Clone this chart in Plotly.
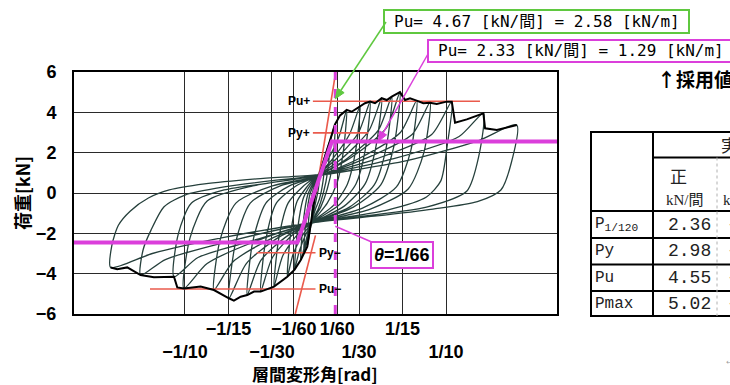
import math
import plotly.graph_objects as go

# ---------------- data (load in kN, drift angle in rad) ----------------
# skeleton (envelope) curve, positive side
env_pos_x = [0.0, 0.0034, 0.0073, 0.0111, 0.0149, 0.0188, 0.0239, 0.0277, 0.0341, 0.0379,
             0.0418, 0.0456, 0.0507, 0.0546, 0.0584, 0.0647, 0.0686, 0.0724, 0.0775, 0.0826,
             0.0877, 0.0929, 0.1005, 0.1044, 0.1069, 0.1159, 0.1286, 0.1299, 0.1389, 0.1542]
env_pos_y = [0.0, 0.98, 1.8, 2.6, 3.4, 3.85, 4.12, 4.03, 4.31, 4.45,
             4.53, 4.45, 4.70, 4.61, 4.78, 5.00, 4.61, 4.69, 4.58, 4.45,
             4.48, 4.41, 4.53, 4.53, 3.49, 3.65, 3.95, 3.21, 3.12, 3.37]

# skeleton curve, negative side
env_neg_x = [0.0, -0.0030, -0.0063, -0.0113, -0.0160, -0.0216, -0.0318, -0.0420, -0.0471,
             -0.0523, -0.0573, -0.0625, -0.0663, -0.0778, -0.0880, -0.1008, -0.1059, -0.1084,
             -0.1238, -0.1340, -0.1442, -0.1519, -0.1569]
env_neg_y = [0.0, -1.3, -2.66, -3.32, -3.8, -4.15, -4.64, -4.89, -4.89,
             -5.06, -5.14, -5.34, -5.22, -4.81, -4.64, -4.73, -4.68, -4.15,
             -4.18, -4.07, -3.69, -3.78, -3.69]

# hysteresis branches: from each positive peak down to the following negative peak
down_x = [
    [0.0034, 0.0022, 0.0, -0.0030],
    [0.0073, 0.0058, 0.003, 0.0, -0.0035, -0.0063],
    [0.0111, 0.0094, 0.006, 0.002, 0.0, -0.0045, -0.0090],
    [0.0149, 0.0130, 0.009, 0.004, 0.0, -0.0055, -0.0113],
    [0.0239, 0.0212, 0.0165, 0.009, 0.0, -0.007, -0.0125, -0.0160],
    [0.0341, 0.0305, 0.0245, 0.014, 0.0, -0.009, -0.017, -0.0216],
    [0.0418, 0.038, 0.031, 0.018, 0.0, -0.013, -0.025, -0.0318],
    [0.0507, 0.046, 0.038, 0.022, 0.0, -0.017, -0.033, -0.0420],
    [0.0584, 0.054, 0.045, 0.026, 0.0, -0.021, -0.042, -0.0523],
    [0.0647, 0.060, 0.050, 0.029, 0.0, -0.027, -0.053, -0.0663],
    [0.0775, 0.073, 0.062, 0.036, 0.0, -0.032, -0.063, -0.0778],
    [0.0877, 0.083, 0.071, 0.042, 0.0, -0.042, -0.083, -0.1008],
    [0.1044, 0.101, 0.096, 0.085, 0.055, 0.0, -0.045, -0.090, -0.1084],
    [0.1286, 0.125, 0.116, 0.085, 0.0, -0.060, -0.115, -0.1340],
    [0.1542, 0.150, 0.142, 0.124, 0.090, 0.045, 0.0, -0.070, -0.125, -0.1569],
]
down_y = [
    [0.98, 0.2, -0.5, -1.3],
    [1.8, 0.6, -0.3, -0.8, -1.6, -2.66],
    [2.6, 1.1, 0.0, -0.8, -1.05, -1.8, -3.0],
    [3.4, 1.4, 0.2, -0.7, -1.15, -1.95, -3.32],
    [4.12, 2.0, 0.5, -0.5, -1.25, -2.0, -2.9, -3.8],
    [4.31, 2.0, 0.45, -0.6, -1.32, -2.0, -3.0, -4.15],
    [4.53, 2.1, 0.45, -0.6, -1.36, -2.0, -3.1, -4.64],
    [4.70, 2.2, 0.45, -0.65, -1.4, -2.05, -3.2, -4.89],
    [4.78, 2.2, 0.4, -0.7, -1.42, -2.1, -3.35, -5.06],
    [5.00, 2.3, 0.4, -0.7, -1.43, -2.15, -3.5, -5.22],
    [4.58, 2.1, 0.3, -0.75, -1.44, -2.2, -3.4, -4.81],
    [4.48, 2.0, 0.2, -0.8, -1.45, -2.3, -3.5, -4.73],
    [4.53, 2.4, 0.6, -0.2, -0.85, -1.45, -2.3, -3.2, -4.15],
    [3.95, 1.8, 0.1, -0.7, -1.45, -2.3, -3.3, -4.07],
    [3.37, 1.5, 0.15, -0.43, -0.8, -1.15, -1.45, -2.2, -3.0, -3.69],
]

# hysteresis branches: from each negative peak up to the next positive peak
up_x = [
    [-0.0030, -0.0018, 0.0, 0.0035, 0.0073],
    [-0.0063, -0.0048, -0.002, 0.0, 0.005, 0.0111],
    [-0.0090, -0.0072, -0.004, 0.0, 0.007, 0.0149],
    [-0.0113, -0.0093, -0.006, 0.0, 0.009, 0.018, 0.0239],
    [-0.0160, -0.0135, -0.009, 0.0, 0.012, 0.026, 0.0341],
    [-0.0216, -0.019, -0.014, -0.006, 0.0, 0.016, 0.033, 0.0418],
    [-0.0318, -0.028, -0.021, -0.010, 0.0, 0.020, 0.041, 0.0507],
    [-0.0420, -0.038, -0.030, -0.015, 0.0, 0.024, 0.048, 0.0584],
    [-0.0523, -0.048, -0.038, -0.020, 0.0, 0.027, 0.054, 0.0647],
    [-0.0663, -0.061, -0.050, -0.027, 0.0, 0.033, 0.065, 0.0775],
    [-0.0778, -0.073, -0.061, -0.033, 0.0, 0.038, 0.074, 0.0877],
    [-0.1008, -0.096, -0.083, -0.048, 0.0, 0.047, 0.089, 0.1044],
    [-0.1084, -0.105, -0.095, -0.070, -0.035, 0.0, 0.060, 0.110, 0.1286],
    [-0.1340, -0.132, -0.126, -0.116, -0.100, -0.070, -0.035, 0.0, 0.070, 0.125, 0.1542],
    [-0.1569, -0.156, -0.151, -0.142, -0.128, -0.112, -0.085, -0.045, 0.0, 0.030],
]
up_y = [
    [-1.3, -0.4, 0.3, 1.0, 1.8],
    [-2.66, -1.0, 0.1, 0.5, 1.4, 2.6],
    [-3.0, -1.3, 0.0, 0.6, 1.6, 3.4],
    [-3.32, -1.4, -0.1, 0.7, 1.6, 2.8, 4.12],
    [-3.8, -1.7, -0.2, 0.75, 1.6, 2.9, 4.31],
    [-4.15, -2.0, -0.4, 0.35, 0.8, 1.7, 3.0, 4.53],
    [-4.64, -2.2, -0.5, 0.3, 0.8, 1.7, 3.1, 4.70],
    [-4.89, -2.3, -0.5, 0.35, 0.8, 1.7, 3.1, 4.78],
    [-5.06, -2.4, -0.5, 0.35, 0.8, 1.75, 3.2, 5.00],
    [-5.22, -2.4, -0.5, 0.35, 0.8, 1.7, 3.0, 4.58],
    [-4.81, -2.3, -0.5, 0.35, 0.8, 1.7, 2.9, 4.48],
    [-4.73, -2.2, -0.4, 0.35, 0.85, 1.7, 2.9, 4.53],
    [-4.15, -2.0, -0.5, 0.15, 0.5, 0.85, 1.7, 2.8, 3.95],
    [-4.07, -2.8, -1.84, -0.68, -0.1, 0.3, 0.6, 0.85, 1.6, 2.6, 3.37],
    [-3.69, -2.6, -1.6, -0.9, -0.25, 0.15, 0.45, 0.7, 0.9, 1.15],
]

# evaluation values
pu_pos, py_pos = 4.55, 2.98
pu_neg, py_neg = -4.76, -2.96
pu_marked = 4.67
theta_u = 1 / 66
bilin_x = [-0.185, -0.0139, 0.0125, 0.185]
bilin_y = [-2.46, -2.46, 2.55, 2.55]
init_pos_x, init_pos_y = [0.0005, 0.0155], [0.0, 6.0]
init_neg_x, init_neg_y = [-0.0155, 0.0], [-6.0, -2.1]
pu_pos_span = [-0.002, 0.126]
py_pos_span = [-0.002, 0.0405]
pu_neg_span = [-0.1268, 0.0]
py_neg_span = [-0.045, 0.0]

x_tick_vals = [-1/10, -1/15, -1/30, -1/60, 1/60, 1/30, 1/15, 1/10]
x_tick_text = ["<br>−1/10", "−1/15", "<br>−1/30", "−1/60", "1/60", "<br>1/30", "1/15", "<br>1/10"]
y_tick_vals = [-6, -4, -2, 0, 2, 4, 6]

table_rows = ["P<sub>1/120</sub>", "Py", "Pu", "Pmax"]
table_pos = ["2.36", "2.98", "4.55", "5.02"]
table_neg = ["-2.62", "-2.96", "-4.76", "-5.34"]

# ---------------- figure ----------------
LOOP = "#26403c"
RED = "#ea5a4c"
MAG = "#db3fdb"
GREEN = "#5fc83f"

X_RANGE = [-0.185, 0.185]
Y_RANGE = [-6, 6]

fig = go.Figure()

# cyclic loops as one continuous path
path_x, path_y = [], []
for i in range(len(down_x)):
    dx, dy = down_x[i], down_y[i]
    ux, uy = up_x[i], up_y[i]
    path_x += (dx if not path_x else dx[1:]) + ux[1:]
    path_y += (dy if not path_y else dy[1:]) + uy[1:]
fig.add_trace(go.Scatter(x=path_x, y=path_y, mode="lines",
                         line=dict(color=LOOP, width=1.3, shape="spline", smoothing=0.7)))

# red evaluation lines
for xs, ys in [(pu_pos_span, [pu_pos, pu_pos]), (py_pos_span, [py_pos, py_pos]),
               (pu_neg_span, [pu_neg, pu_neg]), (py_neg_span, [py_neg, py_neg]),
               (init_pos_x, init_pos_y), (init_neg_x, init_neg_y)]:
    fig.add_trace(go.Scatter(x=xs, y=ys, mode="lines", line=dict(color=RED, width=1.6)))

# skeleton curve
fig.add_trace(go.Scatter(x=env_pos_x, y=env_pos_y, mode="lines", line=dict(color="black", width=2)))
fig.add_trace(go.Scatter(x=env_neg_x, y=env_neg_y, mode="lines", line=dict(color="black", width=2)))

# bilinear model and ultimate drift
fig.add_trace(go.Scatter(x=bilin_x, y=bilin_y, mode="lines", line=dict(color=MAG, width=4)))
fig.add_trace(go.Scatter(x=[theta_u, theta_u], y=[-6, 6], mode="lines",
                         line=dict(color=MAG, width=3, dash="dash")))

L, R, T, B = 74, 557, 72, 314


def pxx(v):
    return (v - L) / (R - L)


def pxy(v):
    return (B - v) / (B - T)


def data_to_px(x, y):
    """Pixel position of a data point inside the plot area."""
    return (L + (x - X_RANGE[0]) / (X_RANGE[1] - X_RANGE[0]) * (R - L),
            B - (y - Y_RANGE[0]) / (Y_RANGE[1] - Y_RANGE[0]) * (B - T))


shapes = []
annotations = []


def text(xp, yp, s, size=16, family="Liberation Sans", color="black", anchor="center", angle=0):
    annotations.append(dict(xref="paper", yref="paper", x=pxx(xp), y=pxy(yp), text=s,
                            showarrow=False, xanchor=anchor, yanchor="middle", textangle=angle,
                            font=dict(size=size, family=family, color=color)))


def rect(x0, y0, x1, y1, color, width=2):
    shapes.append(dict(type="rect", xref="paper", yref="paper", x0=pxx(x0), x1=pxx(x1),
                       y0=pxy(y0), y1=pxy(y1), line=dict(color=color, width=width)))


def hline(x0, x1, y, width=2, color="black", dash=None):
    shapes.append(dict(type="line", xref="paper", yref="paper", x0=pxx(x0), x1=pxx(x1),
                       y0=pxy(y), y1=pxy(y), line=dict(color=color, width=width, dash=dash)))


def vline(x, y0, y1, width=2, color="black", dash=None):
    shapes.append(dict(type="line", xref="paper", yref="paper", x0=pxx(x), x1=pxx(x),
                       y0=pxy(y0), y1=pxy(y1), line=dict(color=color, width=width, dash=dash)))


def arrow(tx, ty, hx, hy, color, width=1.5, head=10, half=4):
    """Leader line from (tx, ty) to (hx, hy) in pixels, with a filled head."""
    dx, dy = hx - tx, hy - ty
    n = math.hypot(dx, dy)
    ux, uy = dx / n, dy / n
    bx, by = hx - head * ux, hy - head * uy
    shapes.append(dict(type="line", xref="paper", yref="paper", x0=pxx(tx), y0=pxy(ty),
                       x1=pxx(bx), y1=pxy(by), line=dict(color=color, width=width)))
    p1 = (bx + half * uy, by - half * ux)
    p2 = (bx - half * uy, by + half * ux)
    path = "M %f %f L %f %f L %f %f Z" % (pxx(hx), pxy(hy), pxx(p1[0]), pxy(p1[1]),
                                          pxx(p2[0]), pxy(p2[1]))
    shapes.append(dict(type="path", xref="paper", yref="paper", path=path,
                       fillcolor=color, line=dict(color=color, width=1)))


# evaluation labels
for lbl, yv, anchor, xv in [("Pu+", pu_pos, "right", -0.0025), ("Py+", py_pos, "right", -0.0025),
                            ("Py−", py_neg, "left", 0.0012), ("Pu−", pu_neg, "left", 0.0012)]:
    annotations.append(dict(x=xv, y=yv, xref="x", yref="y", text="<b>%s</b>" % lbl, showarrow=False,
                            xanchor=anchor, yanchor="middle",
                            font=dict(size=12, family="Liberation Sans Narrow, Liberation Sans", color="black")))

# leader arrows from the value boxes
gx, gy = data_to_px(theta_u, pu_marked)
arrow(386, 22, gx, gy, GREEN)
mx, my = data_to_px(0.048, bilin_y[-1])
arrow(428, 54, mx, my, MAG)

# drift angle box
annotations.append(dict(x=theta_u, y=-1.65, xref="x", yref="y", ax=67, ay=29, axref="pixel", ayref="pixel",
                        text="<b><i>θ</i>=1/66</b>", showarrow=True, arrowhead=0, arrowwidth=1.5, arrowcolor=MAG,
                        bordercolor=MAG, borderwidth=2, borderpad=2, bgcolor="white",
                        font=dict(size=18, family="Liberation Sans", color="black")))

# boxes at top
rect(384, 10, 689, 33, GREEN)
text(537, 21.5, "Pu= 4.67 [kN/間] = 2.58 [kN/m]", size=16, family="DejaVu Sans Mono, Noto Sans CJK JP")
rect(428, 40, 760, 62, MAG)
text(436, 51, "Pu= 2.33 [kN/間] = 1.29 [kN/m]", size=16, family="DejaVu Sans Mono, Noto Sans CJK JP",
     anchor="left")
text(655, 78, "<b>↑採用値</b>", size=19, family="Noto Sans CJK JP", anchor="left")

# axis titles
text(315, 373, "<b>層間変形角[rad]</b>", size=17, family="Noto Sans CJK JP")
text(22, 193, "<b>荷重[kN]</b>", size=18, family="Noto Sans CJK JP", angle=-90)

# table
hline(590, 760, 132)
hline(653, 760, 157.5)
hline(590, 760, 211)
hline(590, 760, 238)
hline(590, 760, 264.5)
hline(590, 760, 291)
hline(590, 760, 316)
vline(591, 131, 317)
vline(653, 131, 317)
vline(717, 157.5, 316, width=1, color="#b0b0b0", dash="dot")
text(678, 175, "正", size=17, family="Noto Sans CJK JP", color="#222")
text(685, 200, "kN/間", size=15, family="Liberation Serif, Noto Sans CJK JP", color="#222")
text(719, 144, "実験値", size=17, family="Noto Sans CJK JP", color="#222", anchor="left")
text(721, 200, "kN/間", size=15, family="Liberation Serif, Noto Sans CJK JP", color="#222", anchor="left")
row_y = [224.5, 251, 277.5, 303.5]
for lbl, vp, vn, yy in zip(table_rows, table_pos, table_neg, row_y):
    text(593, yy, lbl, size=16, family="Liberation Mono", color="#222", anchor="left")
    text(713, yy, vp, size=18, family="Liberation Mono", color="#222", anchor="right")
    text(725, yy, vn, size=18, family="Liberation Mono", color="#222", anchor="left")
text(722, 360, "←", size=12, family="Liberation Sans", color="#999", anchor="left")

axis_common = dict(showline=True, linecolor="black", linewidth=2, mirror=True, ticks="",
                   showgrid=True, gridcolor="#2a2a2a", gridwidth=1.2, zeroline=False)

fig.update_layout(
    width=730, height=385,
    margin=dict(l=L, r=730 - R, t=T, b=385 - B, autoexpand=False),
    paper_bgcolor="white", plot_bgcolor="white",
    showlegend=False,
    xaxis=dict(range=X_RANGE, tickvals=x_tick_vals, ticktext=x_tick_text, tickangle=0,
               tickfont=dict(size=18, family="Liberation Sans", color="black", weight="bold"),
               ticklabelstandoff=-3, **axis_common),
    yaxis=dict(range=Y_RANGE, tickvals=y_tick_vals,
               tickfont=dict(size=18, family="Liberation Sans", color="black", weight="bold"),
               ticklabelstandoff=12, **axis_common),
    shapes=shapes,
    annotations=annotations,
)

fig.write_html("out.html")
